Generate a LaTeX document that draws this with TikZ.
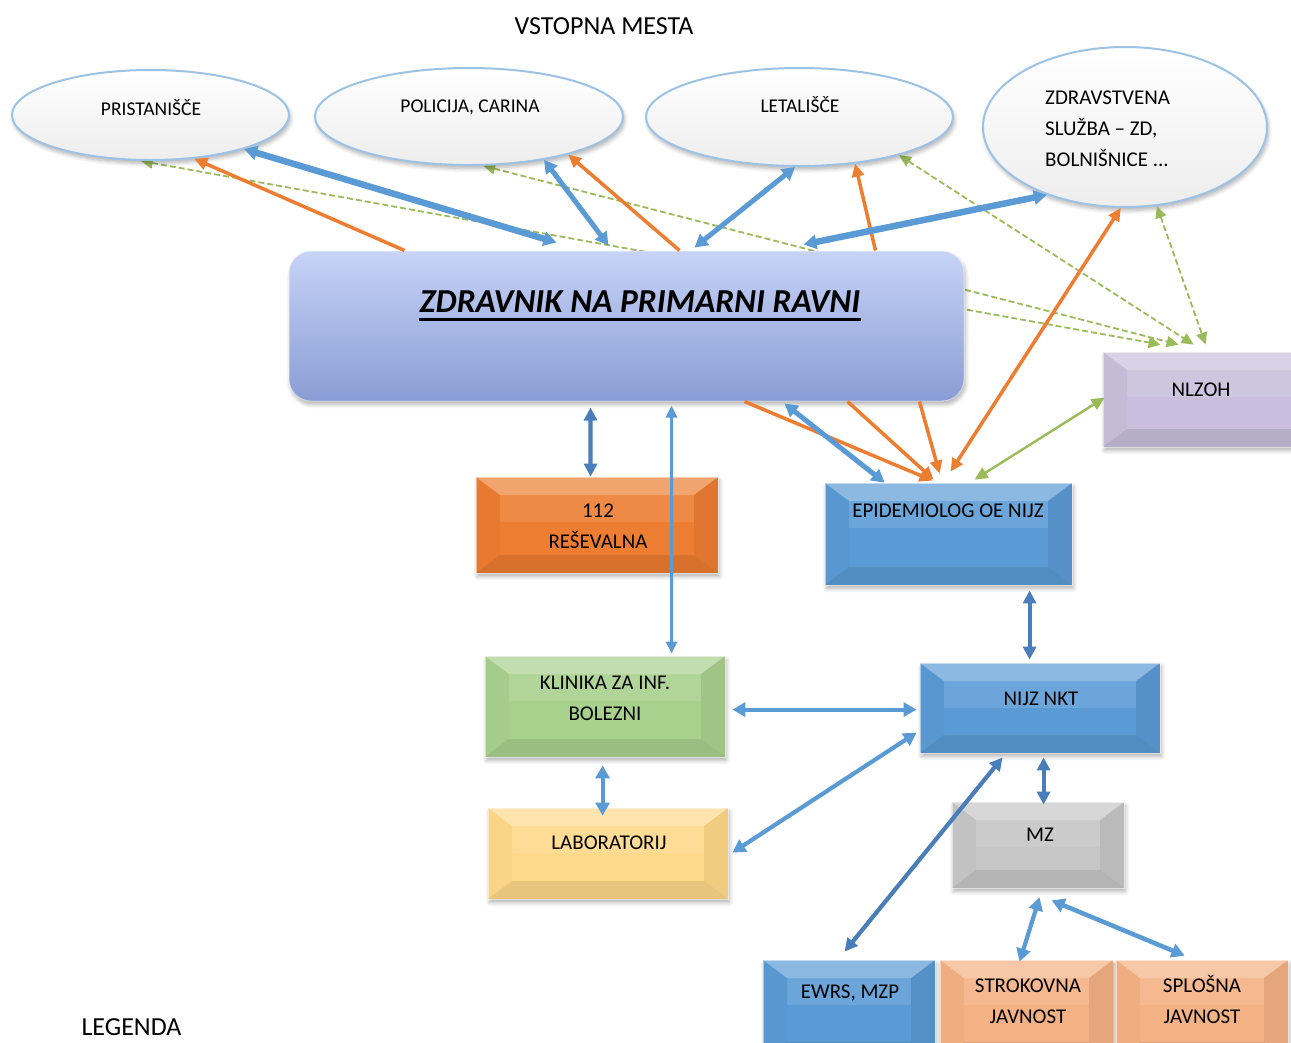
\documentclass[tikz,border=0pt]{standalone}
\usepackage{fontspec}
\setmainfont{Carlito}
\usetikzlibrary{arrows.meta,shadows.blur,shapes.geometric,calc}
\definecolor{lnblue}{HTML}{5B9BD5}
\definecolor{lnblued}{HTML}{4A7EBB}
\definecolor{lnorange}{HTML}{ED7D31}
\definecolor{lngreen}{HTML}{9BBB59}
\definecolor{ellborder}{HTML}{9CC2E5}
\definecolor{maintop}{HTML}{C7D3F7}
\definecolor{mainbot}{HTML}{889DD4}
\definecolor{cblue}{HTML}{5B9BD5}
\definecolor{corange}{HTML}{ED7D31}
\definecolor{cgreen}{HTML}{A9D18E}
\definecolor{cyellow}{HTML}{FFD98A}
\definecolor{cgray}{HTML}{C6C6C6}
\definecolor{clav}{HTML}{C9BFDC}
\definecolor{csalmon}{HTML}{F4B183}
\pgfdeclarelayer{bg}
\pgfsetlayers{bg,main}
\begin{document}
\begin{tikzpicture}[x=1pt,y=-1pt,
  shad/.style={blur shadow={shadow blur steps=6,shadow xshift=1.5pt,shadow yshift=-3.5pt,shadow opacity=30,shadow blur radius=4pt}},
  ell/.style={ellipse,draw=ellborder,line width=2pt,top color=white,bottom color=black!7,inner sep=0pt,shad},
  bev/.style={path picture={
    \coordinate (pNW) at (path picture bounding box.north west);
    \coordinate (pNE) at (path picture bounding box.north east);
    \coordinate (pSW) at (path picture bounding box.south west);
    \coordinate (pSE) at (path picture bounding box.south east);
    \fill[white,opacity=0.30] (pNW) -- (pNE) -- ([shift={(-24pt,-18pt)}]pNE) -- ([shift={(24pt,-18pt)}]pNW) -- cycle;
    \fill[white,opacity=0.10] ([shift={(24pt,-18pt)}]pNW) -- ([shift={(-24pt,-18pt)}]pNE) -- ([shift={(-24pt,-45pt)}]pNE) -- ([shift={(24pt,-45pt)}]pNW) -- cycle;
    \fill[black,opacity=0.02] (pNW) -- ([shift={(24pt,-18pt)}]pNW) -- ([shift={(24pt,18pt)}]pSW) -- (pSW) -- cycle;
    \fill[black,opacity=0.06] (pNE) -- ([shift={(-24pt,-18pt)}]pNE) -- ([shift={(-24pt,18pt)}]pSE) -- (pSE) -- cycle;
    \fill[black,opacity=0.09] (pSW) -- ([shift={(24pt,18pt)}]pSW) -- ([shift={(-24pt,18pt)}]pSE) -- (pSE) -- cycle;
  }},
  box/.style={rectangle,fill=#1,inner sep=0pt,draw=white,draw opacity=0.5,line width=0.8pt,shad,bev},
  bl/.style={draw=lnblue,line width=#1,{Triangle[length=13pt,width=14pt]}-{Triangle[length=13pt,width=14pt]}},
  bl/.default=4.2pt,
  bd/.style={draw=lnblued,line width=4.2pt,{Triangle[length=13pt,width=13pt]}-{Triangle[length=13pt,width=13pt]}},
  ora/.style={draw=lnorange,line width=3.5pt,-{Triangle[length=13pt,width=12pt]}},
  orab/.style={draw=lnorange,line width=3.5pt,{Triangle[length=13pt,width=12pt]}-{Triangle[length=13pt,width=12pt]}},
  gd/.style={draw=lngreen,line width=1.8pt,dash pattern=on 6pt off 3pt,{Triangle[length=12pt,width=11pt]}-{Triangle[length=12pt,width=11pt]}},
  gs/.style={draw=lngreen,line width=2.4pt,{Triangle[length=13pt,width=12pt]}-{Triangle[length=13pt,width=12pt]}},
  fe/.style={font=\fontsize{19.5}{23}\selectfont,inner sep=0pt},
  fb/.style={font=\fontsize{21}{31}\selectfont,inner sep=0pt},
  fh/.style={font=\fontsize{26}{30}\selectfont,inner sep=0pt}
]
\useasboundingbox (0,0) rectangle (1291,1042);

% headings
\node[fh,anchor=base] (head) at (604,34) {VSTOPNA MESTA};
\node[fh,anchor=base] (legend) at (131.5,1035) {LEGENDA};

% ellipses
\node[ell,minimum width=277pt,minimum height=90pt] (pri) at (150.5,115) {};
\node[ell,minimum width=308pt,minimum height=97pt] (pol) at (469,116.5) {};
\node[ell,minimum width=307pt,minimum height=98pt] (let) at (799.5,117) {};
\node[ell,minimum width=284pt,minimum height=160pt] (zdr) at (1125,127) {};
\node[fe,anchor=base] (tpri) at (151,115.5) {PRISTANIŠČE};
\node[fe,anchor=base] (tpol) at (470,112.5) {POLICIJA, CARINA};
\node[fe,anchor=base] (tlet) at (800,112.5) {LETALIŠČE};
\node[fb,anchor=north west,align=left] (tzdr) at (1045,90.5) {ZDRAVSTVENA\\SLUŽBA – ZD,\\BOLNIŠNICE ...};

% main box
\node[rectangle,rounded corners=22pt,top color=maintop,bottom color=mainbot,draw=white,draw opacity=0.45,line width=1pt,shad,minimum width=675pt,minimum height=150pt,inner sep=0pt] (main) at (626.5,326) {};
\node[font=\fontsize{33.5}{36}\selectfont\bfseries\itshape,inner sep=0pt,anchor=base] (title) at (640,312) {ZDRAVNIK NA PRIMARNI RAVNI};
\fill[black] ([shift={(0,5.5)}]title.base west) rectangle ([shift={(0,8.5)}]title.base east);

% boxes
\node[box=clav,minimum width=217pt,minimum height=95pt] (nlz) at (1211.5,399.5) {};
\node[box=corange,minimum width=242pt,minimum height=96pt] (r112) at (597,525) {};
\node[box=cblue,minimum width=247pt,minimum height=102pt] (epi) at (948.5,534) {};
\node[box=cgreen,minimum width=240pt,minimum height=101pt] (kli) at (605,706.5) {};
\node[box=cblue,minimum width=240pt,minimum height=90pt] (nkt) at (1040,708) {};
\node[box=cyellow,minimum width=240pt,minimum height=91pt] (lab) at (608,853.5) {};
\node[box=cgray,minimum width=172pt,minimum height=86pt] (mz) at (1038,845) {};
\node[box=cblue,minimum width=172pt,minimum height=100pt] (ewrs) at (849,1010) {};
\node[box=csalmon,minimum width=173pt,minimum height=100pt] (str) at (1026.5,1010) {};
\node[box=csalmon,minimum width=172pt,minimum height=100pt] (spl) at (1202,1010) {};

\node[fb,anchor=base] (tnlz) at (1201,396) {NLZOH};
\node[fb,anchor=north,align=center] (t112) at (598,504) {112\\REŠEVALNA};
\node[fb,anchor=base] (tepi) at (948,517) {EPIDEMIOLOG OE NIJZ};
\node[fb,anchor=north,align=center] (tkli) at (605,675.5) {KLINIKA ZA INF.\\BOLEZNI};
\node[fb,anchor=base] (tnkt) at (1041,705) {NIJZ NKT};
\node[fb,anchor=base] (tlab) at (609,849) {LABORATORIJ};
\node[fb,anchor=base] (tmz) at (1040,841) {MZ};
\node[fb,anchor=base] (tewrs) at (850,998) {EWRS, MZP};
\node[fb,anchor=north,align=center] (tstr) at (1028,979) {STROKOVNA\\JAVNOST};
\node[fb,anchor=north,align=center] (tspl) at (1202,975) {SPLOŠNA\\JAVNOST};

% green dashed (behind main box)
\begin{pgfonlayer}{bg}
\draw[gd] (pri.-102) -- ([shift={(58,-7)}]nlz.north west);
\draw[gd] (pol.-74) -- ([shift={(76,-7)}]nlz.north west);
\draw[gd] (let.-21) -- ([shift={(91,-7)}]nlz.north west);
\end{pgfonlayer}
\draw[gd] (zdr.-68) -- ([shift={(103,-7)}]nlz.north west);
\draw[gs] ([shift={(150,-3)}]epi.north west) -- ([shift={(2,46)}]nlz.north west);

% orange
\draw[ora] ([shift={(116,0)}]main.north west) -- (pri.-45);
\draw[ora] ([shift={(391,0)}]main.north west) -- (pol.-21);
\draw[ora] ([shift={(587,0)}]main.north west) -- (let.-40);
\draw[ora] ([shift={(456,0)}]main.south west) -- ([shift={(108,-2)}]epi.north west);
\draw[ora] ([shift={(559,0)}]main.south west) -- ([shift={(109,-3)}]epi.north west);
\draw[ora] ([shift={(631,0)}]main.south west) -- ([shift={(115,-9)}]epi.north west);
\draw[orab] (zdr.-93) -- ([shift={(126,-11)}]epi.north west);

% blue
\draw[bl=6.5pt] (pri.-20) -- ([shift={(268,-8)}]main.north west);
\draw[bl=5pt] (pol.-30) -- ([shift={(320,-5)}]main.north west);
\draw[bl=5pt] (let.-95) -- ([shift={(406,-3)}]main.north west);
\draw[bl=6.5pt] (zdr.-139) -- ([shift={(515,-6)}]main.north west);
\draw[bl=5pt] ([shift={(496,2)}]main.south west) -- ([shift={(60,0)}]epi.north west);
\draw[bd] ([shift={(302,6)}]main.south west) -- ([shift={(115,0)}]r112.north west);
\draw[draw=lnblue,line width=3pt,{Triangle[length=12pt,width=11pt]}-{Triangle[length=12pt,width=11pt]}] ([shift={(383,4)}]main.south west) -- ([shift={(187,-2)}]kli.north west);
\draw[bd] ([shift={(205,5)}]epi.south west) -- ([shift={(110,-3)}]nkt.north west);
\draw[bl] ([shift={(7,54)}]kli.north east) -- ([shift={(-3,47)}]nkt.north west);
\draw[bl] ([shift={(118,8)}]kli.south west) -- ([shift={(115,8)}]lab.north west);
\draw[bl] ([shift={(-3,70)}]nkt.north west) -- ([shift={(4,45)}]lab.north east);
\draw[bd] ([shift={(83,4)}]nkt.south west) -- ([shift={(82,-8)}]ewrs.north west);
\draw[bd] ([shift={(124,4)}]nkt.south west) -- ([shift={(92,3)}]mz.north west);
\draw[bl] ([shift={(88,9)}]mz.south west) -- ([shift={(80,2)}]str.north west);
\draw[bl=4.5pt] ([shift={(100,12)}]mz.south west) -- ([shift={(69,-4)}]spl.north west);
\end{tikzpicture}
\end{document}
